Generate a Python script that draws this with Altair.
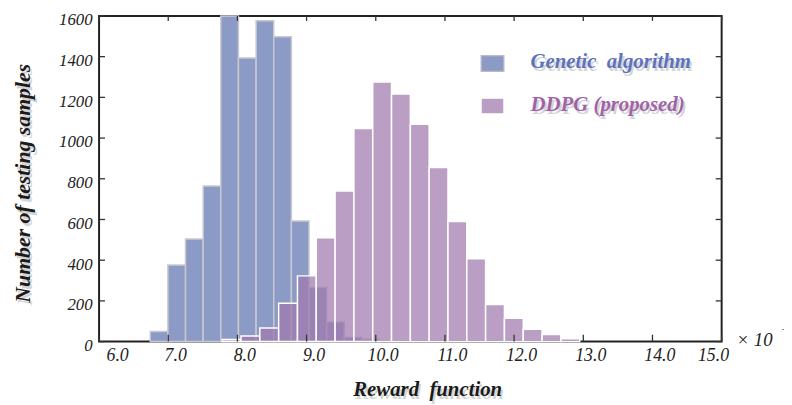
import altair as alt
import pandas as pd

# ---------------- data ----------------
ga_edges = [6.74, 6.995, 7.25, 7.505, 7.76, 8.015, 8.27, 8.525, 8.78, 9.035,
            9.29, 9.545, 9.80, 10.055]
ga_counts = [50, 376, 504, 765, 1600, 1394, 1577, 1498, 593, 266, 96, 20, 12]

ddpg_edges = [7.78, 8.052, 8.324, 8.596, 8.868, 9.14, 9.412, 9.684, 9.956,
              10.228, 10.5, 10.772, 11.044, 11.316, 11.588, 11.86, 12.132,
              12.404, 12.676, 12.948]
ddpg_counts = [10, 28, 67, 188, 323, 510, 740, 1047, 1276, 1216, 1068, 856,
               590, 407, 182, 115, 61, 35, 14]

x_ticks = [6, 7, 8, 9, 10, 11, 12, 13, 14, 15]
y_ticks = [0, 200, 400, 600, 800, 1000, 1200, 1400, 1600]

series_names = ["Genetic\u00a0 algorithm", "DDPG (proposed)"]
x_title = ["Reward\u00a0 function"]
y_title = ["Number of testing samples"]
exponent_text = ["\u00d7 10"]
exponent_sup = ["\u22124"]

# ---------------- tables ----------------
ga = pd.DataFrame({"start": ga_edges[:-1], "end": ga_edges[1:], "count": ga_counts})
ddpg = pd.DataFrame({"start": ddpg_edges[:-1], "end": ddpg_edges[1:], "count": ddpg_counts})
xt = pd.DataFrame({"v": x_ticks})
yt = pd.DataFrame({"v": y_ticks})

W, H = 629, 329
SERIF = "Liberation Serif"
BLUE = "#8C9BC6"
PURPLE = "#9F78AD"

xscale = alt.Scale(domain=[6, 15], nice=False, zero=False)
yscale = alt.Scale(domain=[0, 1600], nice=False)

xaxis = alt.Axis(values=x_ticks, format=".1f", title=None, labelOffset=7,
                 labelPadding=5, labelFontSize=18, labelFont=SERIF,
                 labelFontStyle="italic")
yaxis = alt.Axis(values=y_ticks, format="d", title=None, labelPadding=7,
                 labelOffset=4, labelFontSize=17, labelFont=SERIF,
                 labelFontStyle="italic")

blue = alt.Chart(ga).mark_rect(
    fill=BLUE, stroke="#C8C9D0", strokeWidth=1.5
).encode(
    x=alt.X("start:Q", scale=xscale, axis=xaxis),
    x2="end:Q",
    y=alt.Y("count:Q", scale=yscale, axis=yaxis),
    y2=alt.datum(0),
)

purple = alt.Chart(ddpg).mark_rect(
    fill=PURPLE, fillOpacity=0.72, stroke="white", strokeWidth=1.5
).encode(
    x=alt.X("start:Q", scale=xscale, axis=xaxis),
    x2="end:Q",
    y=alt.Y("count:Q", scale=yscale, axis=yaxis),
    y2=alt.datum(0),
)

tick_style = dict(color="#333", strokeWidth=1.3)
xt_bottom = alt.Chart(xt).mark_rule(**tick_style).encode(
    x=alt.X("v:Q", scale=xscale, axis=xaxis), y=alt.value(H - 7), y2=alt.value(H))
xt_top = alt.Chart(xt).mark_rule(**tick_style).encode(
    x=alt.X("v:Q", scale=xscale, axis=xaxis), y=alt.value(0), y2=alt.value(5))
yt_left = alt.Chart(yt).mark_rule(**tick_style).encode(
    y=alt.Y("v:Q", scale=yscale, axis=yaxis), x=alt.value(0), x2=alt.value(6))
yt_right = alt.Chart(yt).mark_rule(**tick_style).encode(
    y=alt.Y("v:Q", scale=yscale, axis=yaxis), x=alt.value(W - 6), x2=alt.value(W))


def text_layer(values, x, y, size, color, bold=True, angle=0, align="center",
               shadow=True):
    df = pd.DataFrame({"t": values})
    layers = []
    if shadow:
        layers.append(alt.Chart(df).mark_text(
            font=SERIF, fontStyle="italic", fontWeight="bold" if bold else "normal",
            fontSize=size, color="#777", opacity=0.3, angle=angle, align=align,
            baseline="middle").encode(
            text="t:N", x=alt.value(x + 2), y=alt.value(y + 3)))
    layers.append(alt.Chart(df).mark_text(
        font=SERIF, fontStyle="italic", fontWeight="bold" if bold else "normal",
        fontSize=size, color=color, angle=angle, align=align,
        baseline="middle").encode(
        text="t:N", x=alt.value(x), y=alt.value(y)))
    return layers


# legend swatches
leg_blue = alt.Chart(pd.DataFrame({"t": series_names[:1]})).mark_rect(
    fill=BLUE, stroke="#BBBBC4", strokeWidth=1.2).encode(
    x=alt.value(386), x2=alt.value(409), y=alt.value(40), y2=alt.value(56))
leg_purple = alt.Chart(pd.DataFrame({"t": series_names[1:]})).mark_rect(
    fill="#B99DC3", stroke="white", strokeWidth=1.2).encode(
    x=alt.value(386), x2=alt.value(409), y=alt.value(83), y2=alt.value(99))

layers = [blue, purple, xt_bottom, xt_top, yt_left, yt_right, leg_blue, leg_purple]
layers += text_layer(series_names[:1], 436, 47, 21, "#5C72BD", align="left")
layers += text_layer(series_names[1:], 436, 90, 21, "#A163A8", align="left")
layers += text_layer(x_title, 332, 378, 21, "#1a1a1a")
layers += text_layer(y_title, -77, 169, 22, "#1a1a1a", angle=270)
layers += text_layer(exponent_text, 644, 327, 19, "#222", bold=False,
                     align="left", shadow=False)
layers += text_layer(exponent_sup, 689, 317, 11, "#222", bold=False,
                     align="left", shadow=False)

chart = alt.layer(*layers).properties(
    width=W, height=H,
    autosize=alt.AutoSizeParams(type="none"),
    padding={"left": 92, "top": 6, "right": 63, "bottom": 62},
    background="white",
).configure_view(
    stroke="#222", strokeWidth=2
).configure_axis(
    grid=False, domain=False, ticks=False, labelFont=SERIF,
    labelFontStyle="italic", labelFontWeight="normal", labelColor="#222",
)

chart.save("out.html", embed_options={"renderer": "svg", "actions": False})
